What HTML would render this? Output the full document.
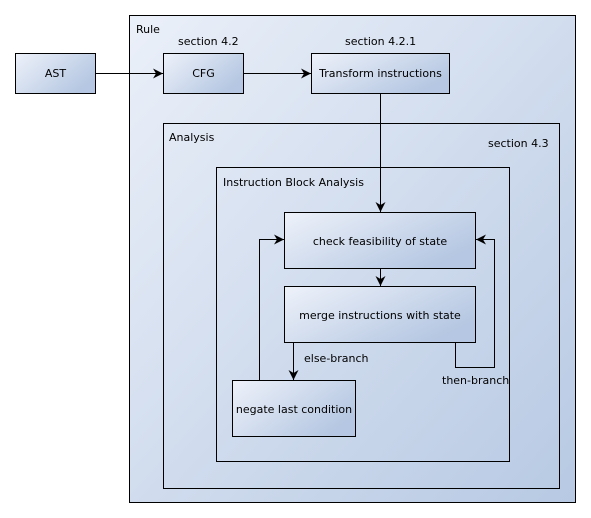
<!DOCTYPE html>
<html><head><style>body{margin:0;background:#fff}svg{display:block}text{font-family:"DejaVu Sans",sans-serif;font-size:11px;fill:#000}</style></head>
<body>
<svg width="591" height="518" xmlns="http://www.w3.org/2000/svg">
<defs>
<linearGradient id="g" x1="0" y1="0" x2="1" y2="1"><stop offset="0" stop-color="#ebf0f9"/><stop offset="1" stop-color="#b7c9e3"/></linearGradient>
<linearGradient id="b" x1="0" y1="0" x2="1" y2="0.6"><stop offset="0" stop-color="#eef2fa"/><stop offset="1" stop-color="#b5c7e2"/></linearGradient>
<marker id="a" viewBox="0 0 10 10" refX="10" refY="5" markerWidth="10" markerHeight="10" orient="auto" markerUnits="userSpaceOnUse"><path d="M0,0 L10,5 L0,10 L3,5 z" fill="#000"/></marker>
</defs>
<rect x="129.5" y="15.5" width="446" height="487" fill="url(#g)" stroke="#000"/>
<text x="136" y="33">Rule</text>
<rect x="163.5" y="123.5" width="396" height="365" fill="none" stroke="#000"/>
<text x="169" y="141">Analysis</text>
<text x="488" y="147">section 4.3</text>
<rect x="216.5" y="167.5" width="293" height="294" fill="none" stroke="#000"/>
<text x="223" y="186">Instruction Block Analysis</text>
<rect x="15.5" y="53.5" width="80" height="40" fill="url(#b)" stroke="#000"/>
<text x="55.5" y="77" text-anchor="middle">AST</text>
<text x="178" y="45">section 4.2</text>
<rect x="163.5" y="53.5" width="80" height="40" fill="url(#b)" stroke="#000"/>
<text x="203.5" y="77" text-anchor="middle">CFG</text>
<text x="345" y="45">section 4.2.1</text>
<rect x="311.5" y="53.5" width="138" height="40" fill="url(#b)" stroke="#000"/>
<text x="380.5" y="77" text-anchor="middle">Transform instructions</text>
<rect x="284.5" y="212.5" width="191" height="56" fill="url(#b)" stroke="#000"/>
<text x="380" y="245" text-anchor="middle">check feasibility of state</text>
<rect x="284.5" y="286.5" width="191" height="56" fill="url(#b)" stroke="#000"/>
<text x="380" y="319" text-anchor="middle">merge instructions with state</text>
<rect x="232.5" y="380.5" width="123" height="56" fill="url(#b)" stroke="#000"/>
<text x="294" y="413" text-anchor="middle">negate last condition</text>
<g stroke="#000" fill="none">
<path d="M95.5 73.5 H163" marker-end="url(#a)"/>
<path d="M243.5 73.5 H311" marker-end="url(#a)"/>
<path d="M380.5 93.5 V212" marker-end="url(#a)"/>
<path d="M380.5 268.5 V286" marker-end="url(#a)"/>
<path d="M293.5 342.5 V380" marker-end="url(#a)"/>
<path d="M259.5 380.5 V239.5 H284" marker-end="url(#a)"/>
<path d="M455.5 342.5 V367.5 H494.5 V239.5 H476" marker-end="url(#a)"/>
</g>
<text x="304" y="362">else-branch</text>
<text x="442" y="384">then-branch</text>
</svg>
</body></html>
